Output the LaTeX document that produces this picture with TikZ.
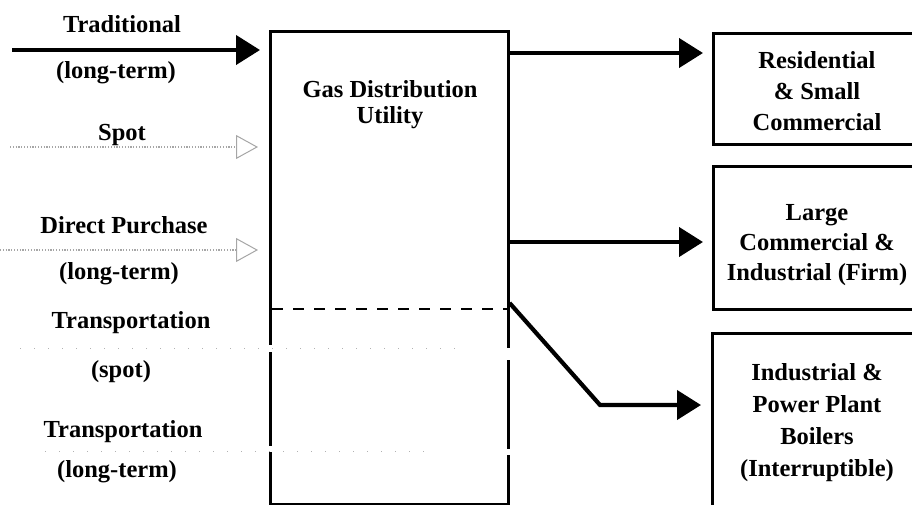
\documentclass[tikz,border=0pt]{standalone}
\usepackage{fontspec}
\setmainfont{Liberation Serif}
\usetikzlibrary{arrows.meta}
\begin{document}
\begin{tikzpicture}[x=1pt,y=-1pt,
  lbl/.style={font=\fontsize{24.5}{26}\selectfont\bfseries, inner sep=0pt},
  boxline/.style={draw=black, line width=2.6pt, inner sep=0pt},
  flow/.style={line width=4.2pt, -{Triangle[length=24pt,width=29pt]}},
  faint/.style={gray!70, line width=1.4pt, dash pattern=on 1.2pt off 1.6pt,
    -{Triangle[open,length=22pt,width=24pt,line width=1pt]}},
  trans/.style={gray!60, line width=1pt, dash pattern=on 1pt off 13pt}]
\useasboundingbox (0,0) rectangle (912,504);

% boxes
\node[boxline, anchor=north west, minimum width=238pt, minimum height=473pt] (gdu) at (269,30) {};
\node[boxline, anchor=north west, minimum width=212pt, minimum height=111pt] (res) at (712,32) {};
\node[boxline, anchor=north west, minimum width=212pt, minimum height=143pt] (lcf) at (712,165) {};
\node[boxline, anchor=north west, minimum width=212pt, minimum height=180pt] (ipb) at (711,332) {};

% gaps in main box edges
\fill[white] (265,345) rectangle (273,352);
\fill[white] (265,446) rectangle (273,452);
\fill[white] (503,348) rectangle (511,360);
\fill[white] (503,449) rectangle (511,455);

% box texts
\node[lbl, align=center] (gdut) at (390,105) {Gas Distribution\\Utility};
\node[lbl, align=center, font=\fontsize{24.5}{31}\selectfont\bfseries] (rest) at (817,91) {Residential\\\& Small\\Commercial};
\node[lbl, align=center, font=\fontsize{24.5}{30}\selectfont\bfseries] (lcft) at (817,245) {Large\\Commercial \&\\Industrial (Firm)};
\node[lbl, align=center, font=\fontsize{24.5}{32}\selectfont\bfseries] (ipbt) at (817,423) {Industrial \&\\Power Plant\\Boilers\\(Interruptible)};

% left labels
\node[lbl, anchor=base] (l1) at (122,32) {Traditional};
\node[lbl, anchor=base] (l2) at (116,78) {(long-term)};
\node[lbl, anchor=base] (l3) at (122,140) {Spot};
\node[lbl, anchor=base] (l4) at (124,233) {Direct Purchase};
\node[lbl, anchor=base] (l5) at (119,279) {(long-term)};
\node[lbl, anchor=base] (l6) at (131,328) {Transportation};
\node[lbl, anchor=base] (l7) at (121,377) {(spot)};
\node[lbl, anchor=base] (l8) at (123,437) {Transportation};
\node[lbl, anchor=base] (l9) at (117,477) {(long-term)};

% incoming arrows
\coordinate (tA) at (12,50);
\draw[flow, shorten >=9pt] (tA) -- (tA -| gdu.west);
\coordinate (sA) at (10,147);
\draw[faint, shorten >=11pt] (sA) -- (sA -| gdu.west);
\coordinate (dA) at (0,250);
\draw[faint, shorten >=11pt] (dA) -- (dA -| gdu.west);

% transportation faint lines
\coordinate (ts1) at (20,348);
\coordinate (ts2) at (462,348);
\draw[trans] (ts1) -- (ts2);
\coordinate (tl1) at (45,451);
\coordinate (tl2) at (432,451);
\draw[trans] (tl1) -- (tl2);

% dashed divider
\coordinate (dv) at (0,309);
\draw[line width=2.2pt, dash pattern=on 11pt off 10pt] ([xshift=3pt]gdu.west |- dv) -- ([xshift=-3pt]gdu.east |- dv);

% outgoing arrows
\coordinate (o1) at (507,53);
\draw[flow, shorten >=9pt] (o1 -| gdu.east) -- (o1 -| res.west);
\coordinate (o2) at (507,242);
\draw[flow, shorten >=9pt] (o2 -| gdu.east) -- (o2 -| lcf.west);
\coordinate (o3a) at (507,303);
\coordinate (o3b) at (600,405);
\draw[flow, shorten >=10pt] (o3a -| gdu.east) -- (o3b) -- (o3b -| ipb.west);
\end{tikzpicture}
\end{document}
